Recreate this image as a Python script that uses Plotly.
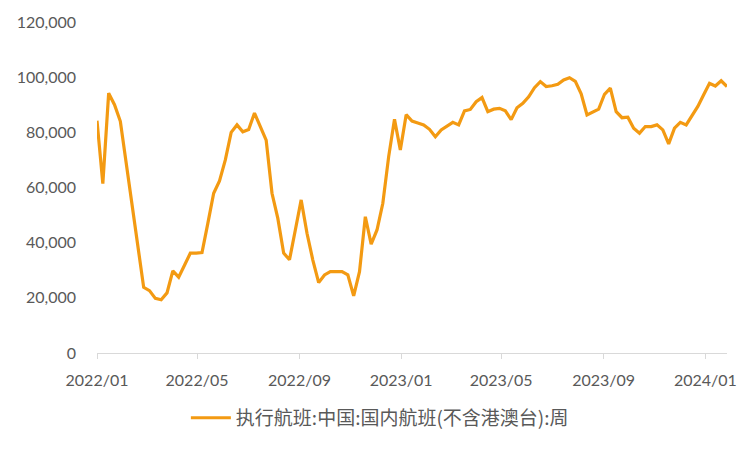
import datetime as dt
import plotly.graph_objects as go

# Weekly series: executed domestic flights (China, excl. HK/Macau/Taiwan)
start_date = dt.date(2022, 1, 1)
flights = [
    84200, 61400, 94200, 90000, 84000, 69000, 54000, 39000, 23800, 22600,
    19800, 19300, 21800, 29800, 27500, 31800, 36200, 36200, 36400, 47000,
    57900, 62400, 70000, 80000, 82700, 80200, 81000, 87000, 82000, 77200,
    57900, 48800, 36200, 33800, 44600, 55500, 43400, 33700, 25500, 28300,
    29500, 29600, 29500, 28300, 20700, 29500, 49400, 39500, 44600, 54300,
    71200, 84700, 73600, 86400, 84100, 83400, 82700, 81100, 78400, 80900,
    82400, 83600, 82700, 87800, 88300, 91100, 92600, 87500, 88400, 88700,
    87800, 84600, 88900, 90500, 92900, 96200, 98400, 96600, 96900, 97400,
    99000, 99800, 98500, 94000, 86300, 87500, 88400, 93800, 96000, 87500,
    85300, 85500, 81500, 79700, 82100, 82100, 82700, 80900, 75800, 81500,
    83600, 82700, 86300, 89400, 93600, 97800, 96800, 98700, 96600,
]
dates = [start_date + dt.timedelta(days=7 * i) for i in range(len(flights))]

tick_dates = ["2022-01-01", "2022-05-01", "2022-09-01", "2023-01-01",
              "2023-05-01", "2023-09-01", "2024-01-01"]
tick_labels = ["2022/01", "2022/05", "2022/09", "2023/01",
               "2023/05", "2023/09", "2024/01"]
series_name = "执行航班:中国:国内航班(不含港澳台):周"

fig = go.Figure()
fig.add_trace(go.Scatter(
    x=dates, y=flights, mode="lines", name=series_name,
    line=dict(color="#F39A12", width=3.2),
))

fig.update_layout(
    width=750, height=450,
    margin=dict(l=97, r=23, t=22, b=97, autoexpand=False),
    paper_bgcolor="white", plot_bgcolor="white",
    font=dict(family="Lato, 'Noto Sans CJK SC', sans-serif", size=16, color="#595959"),
    showlegend=True,
    legend=dict(
        orientation="h", x=0.449, xanchor="center", y=-0.196, yanchor="middle",
        font=dict(family="'Noto Sans CJK SC', sans-serif", size=19, color="#595959"),
        bgcolor="rgba(0,0,0,0)", itemwidth=40,
    ),
)
fig.update_xaxes(
    type="date",
    range=[dates[0], dates[-1]],
    tickvals=tick_dates, ticktext=tick_labels,
    showgrid=False, zeroline=False,
    showline=True, linecolor="#D9D9D9", linewidth=1,
    ticks="outside", ticklen=5, tickcolor="#D9D9D9",
    ticklabelstandoff=8, automargin=False,
    tickfont=dict(size=16, color="#595959"),
)
fig.update_yaxes(
    range=[0, 120000], dtick=20000, tickformat=",d",
    showgrid=False, zeroline=False, showline=False,
    ticks="", ticklabelstandoff=20, automargin=False,
    tickfont=dict(size=16, color="#595959"),
)

fig.write_html(
    "out.html",
    config={"displayModeBar": False},
    post_script="document.body.style.margin='0px';",
)
